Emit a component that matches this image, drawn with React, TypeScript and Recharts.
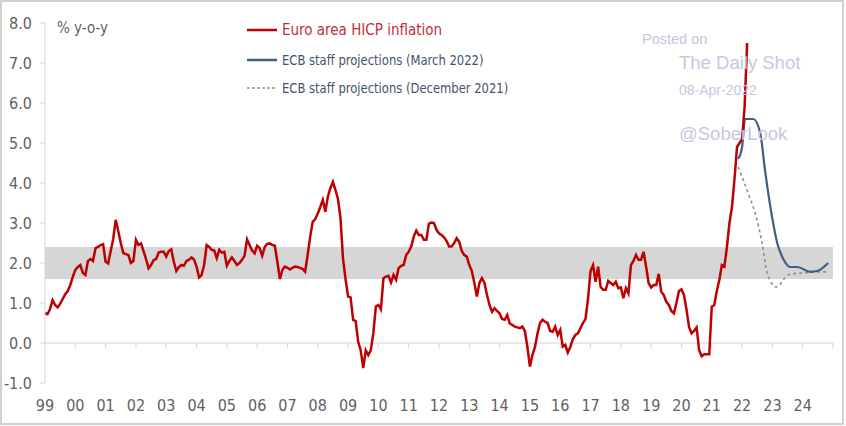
import { LineChart, Line, XAxis, YAxis, ReferenceArea, ReferenceLine } from 'recharts';

// Euro area HICP, y-o-y %, monthly from Jan 1999 to Mar 2022
const START_YEAR = 1999;
const hicpMonthly = [
  0.75, 0.72, 0.85, 1.07, 0.95, 0.89, 0.98, 1.1, 1.22, 1.3, 1.45, 1.65, // 1999
  1.83, 1.9, 1.95, 1.75, 1.7, 2.05, 2.1, 2.05, 2.37, 2.4, 2.45, 2.47, // 2000
  2.03, 1.99, 2.3, 2.6, 3.08, 2.8, 2.5, 2.25, 2.22, 2.2, 2.0, 2.05, // 2001
  2.58, 2.45, 2.49, 2.3, 2.1, 1.87, 1.95, 2.07, 2.1, 2.26, 2.28, 2.28, // 2002
  2.16, 2.3, 2.34, 2.03, 1.8, 1.9, 1.95, 1.93, 2.05, 2.08, 2.14, 2.09, // 2003
  1.91, 1.64, 1.7, 1.95, 2.45, 2.4, 2.33, 2.31, 2.12, 2.33, 2.26, 2.28, // 2004
  1.93, 2.05, 2.14, 2.05, 1.95, 2.0, 2.08, 2.18, 2.59, 2.45, 2.31, 2.24, // 2005
  2.43, 2.37, 2.18, 2.4, 2.48, 2.49, 2.45, 2.43, 2.03, 1.6, 1.83, 1.91, // 2006
  1.88, 1.84, 1.88, 1.91, 1.9, 1.88, 1.85, 1.78, 2.2, 2.66, 3.03, 3.1, // 2007
  3.24, 3.4, 3.58, 3.28, 3.66, 3.87, 4.03, 3.83, 3.6, 3.12, 2.1, 1.6, // 2008
  1.16, 1.14, 0.58, 0.55, 0.03, -0.18, -0.63, -0.18, -0.3, -0.18, 0.24, 0.91, // 2009
  0.95, 0.84, 1.62, 1.66, 1.68, 1.51, 1.7, 1.58, 1.87, 1.93, 1.95, 2.2, // 2010
  2.28, 2.41, 2.66, 2.81, 2.7, 2.7, 2.58, 2.58, 2.98, 3.01, 3.0, 2.83, // 2011
  2.74, 2.7, 2.64, 2.55, 2.41, 2.41, 2.5, 2.62, 2.53, 2.3, 2.2, 2.16, // 2012
  1.95, 1.8, 1.5, 1.16, 1.5, 1.62, 1.5, 1.2, 0.95, 0.78, 0.87, 0.8, // 2013
  0.74, 0.6, 0.58, 0.7, 0.49, 0.45, 0.41, 0.39, 0.37, 0.41, 0.3, -0.1, // 2014
  -0.59, -0.3, -0.1, 0.24, 0.5, 0.58, 0.53, 0.5, 0.3, 0.28, 0.41, 0.2, // 2015
  0.33, -0.09, -0.05, -0.24, -0.1, 0.1, 0.2, 0.24, 0.37, 0.5, 0.6, 1.1, // 2016
  1.8, 1.95, 1.53, 1.91, 1.4, 1.33, 1.33, 1.55, 1.5, 1.45, 1.53, 1.37, // 2017
  1.39, 1.12, 1.37, 1.24, 1.95, 2.05, 2.2, 2.08, 2.08, 2.28, 1.91, 1.5, // 2018
  1.39, 1.45, 1.45, 1.73, 1.28, 1.2, 1.03, 0.95, 0.8, 0.74, 1.0, 1.3, // 2019
  1.34, 1.2, 0.83, 0.4, 0.24, 0.3, 0.39, -0.18, -0.33, -0.28, -0.28, -0.28, // 2020
  0.91, 0.95, 1.3, 1.58, 1.95, 1.91, 2.4, 3.0, 3.4, 4.1, 4.9, 5.0, // 2021
  5.1, 5.9, 7.5, // 2022
];

// ECB staff projections (March 2022): [date as decimal year, %]
const march2022Dates = [2021.87, 2022.0, 2022.1, 2022.37, 2022.6, 2022.76, 2022.99, 2023.16, 2023.36, 2023.59, 2023.82, 2024.25, 2024.48, 2024.84];
const march2022Values = [4.6, 4.9, 5.6, 5.6, 5.25, 4.3, 3.15, 2.5, 2.1, 1.9, 1.9, 1.78, 1.8, 2.0];

// ECB staff projections (December 2021)
const dec2021Dates = [2021.87, 2022.27, 2022.43, 2022.66, 2022.83, 2023.13, 2023.52, 2023.92, 2024.84];
const dec2021Values = [4.4, 3.6, 3.25, 2.5, 1.75, 1.4, 1.7, 1.75, 1.78];

const yearTicks = [1999, 2000, 2001, 2002, 2003, 2004, 2005, 2006, 2007, 2008, 2009, 2010, 2011, 2012, 2013, 2014, 2015, 2016, 2017, 2018, 2019, 2020, 2021, 2022, 2023, 2024];
const tickMarkYears = [2000, 2001, 2002, 2003, 2004, 2005, 2006, 2007, 2008, 2009, 2010, 2011, 2012, 2013, 2014, 2015, 2016, 2017, 2018, 2019, 2020, 2021, 2022, 2023, 2024, 2025];
const yTicks = [-1, 0, 1, 2, 3, 4, 5, 6, 7, 8];
const targetBand = [1.6, 2.4];

const hicpData = hicpMonthly.map((v, i) => ({ x: START_YEAR + i / 12, v }));
const marchData = march2022Dates.map((x, i) => ({ x, v: march2022Values[i] }));
const decData = dec2021Dates.map((x, i) => ({ x, v: dec2021Values[i] }));

const NARROW = "'Liberation Sans Narrow', 'DejaVu Sans Condensed', 'Roboto Condensed', sans-serif";
const WM_FONT = "'Liberation Sans', Arial, sans-serif";
const RED = '#be0000';
const BLUE = '#3f5f86';
const GREY_TEXT = '#5f5f5f';
const WM = '#c4c8e0';

const legendItems = [
  { label: 'Euro area HICP inflation', color: RED, text: '#c0303a', dash: false, size: 15, squeeze: 1 },
  { label: 'ECB staff projections (March 2022)', color: BLUE, text: '#44546a', dash: false, size: 14, squeeze: 0.92 },
  { label: 'ECB staff projections (December 2021)', color: '#8a8f98', text: '#44546a', dash: true, size: 14, squeeze: 0.92 },
];

export default function App() {
  return (
    <div style={{ position: 'absolute', left: 0, top: 0, width: 846, height: 426, background: '#fff', fontFamily: NARROW }}>
      <div style={{ position: 'absolute', left: 0, top: 0, width: 844, height: 425, border: '2px solid #d0d0d0', boxSizing: 'border-box' }} />
      <LineChart width={846} height={426} margin={{ top: 23, right: 13, bottom: 13, left: 5 }}>
        <ReferenceArea x1={1999} x2={2025} y1={targetBand[0]} y2={targetBand[1]} fill="#d6d6d6" fillOpacity={1} stroke="none" />
        <ReferenceLine y={0} stroke="#d4d4d4" strokeWidth={1} />
        {tickMarkYears.map((yr) => (
          <ReferenceLine key={yr} segment={[{ x: yr, y: 0 }, { x: yr, y: -0.13 }]} stroke="#d4d4d4" strokeWidth={1} />
        ))}
        <XAxis
          type="number"
          dataKey="x"
          domain={[1999, 2025]}
          ticks={yearTicks}
          tickFormatter={(v: number) => String(v % 100).padStart(2, '0')}
          axisLine={false}
          tickLine={false}
          tickMargin={11}
          height={30}
          tick={{ fill: GREY_TEXT, fontSize: 16, fontFamily: NARROW }}
        />
        <YAxis
          type="number"
          domain={[-1, 8]}
          ticks={yTicks}
          tickFormatter={(v: number) => v.toFixed(1)}
          width={40}
          axisLine={{ stroke: '#d4d4d4' }}
          tickLine={{ stroke: '#d4d4d4' }}
          tickSize={5}
          tickMargin={8}
          tick={{ fill: GREY_TEXT, fontSize: 16, fontFamily: NARROW }}
        />
        <Line data={decData} dataKey="v" type="monotone" stroke="#8a8f98" strokeWidth={1.6} strokeDasharray="3 3" dot={false} isAnimationActive={false} />
        <Line data={marchData} dataKey="v" type="monotone" stroke={BLUE} strokeWidth={2.2} dot={false} isAnimationActive={false} />
        <Line data={hicpData} dataKey="v" type="linear" stroke={RED} strokeWidth={2.5} dot={false} isAnimationActive={false} />
      </LineChart>

      <div style={{ position: 'absolute', left: 57, top: 19, fontSize: 15, color: GREY_TEXT }}>% y-o-y</div>

      {legendItems.map((it, i) => (
        <div key={it.label} style={{ position: 'absolute', left: 247, top: [20, 50, 78][i], height: 20, display: 'flex', alignItems: 'center' }}>
          <svg width={31} height={4} style={{ marginRight: 4 }}>
            <line x1={0} y1={2} x2={30} y2={2} stroke={it.color} strokeWidth={it.dash ? 1.5 : 2.5} strokeDasharray={it.dash ? '3 2' : undefined} />
          </svg>
          <span style={{ fontSize: it.size, color: it.text, whiteSpace: 'nowrap', display: 'inline-block', transform: `scaleX(${it.squeeze})`, transformOrigin: 'left center' }}>{it.label}</span>
        </div>
      ))}

      <div style={{ position: 'absolute', left: 642, top: 31, fontSize: 14.5, color: WM, fontFamily: WM_FONT, pointerEvents: 'none' }}>Posted on</div>
      <div style={{ position: 'absolute', left: 679, top: 52, fontSize: 18.5, color: WM, fontFamily: WM_FONT, pointerEvents: 'none' }}>The Daily Shot</div>
      <div style={{ position: 'absolute', left: 679, top: 82, fontSize: 14, color: WM, fontFamily: WM_FONT, pointerEvents: 'none' }}>08-Apr-2022</div>
      <div style={{ position: 'absolute', left: 679, top: 123, fontSize: 18.5, color: WM, fontFamily: WM_FONT, pointerEvents: 'none' }}>@SoberLook</div>
    </div>
  );
}
